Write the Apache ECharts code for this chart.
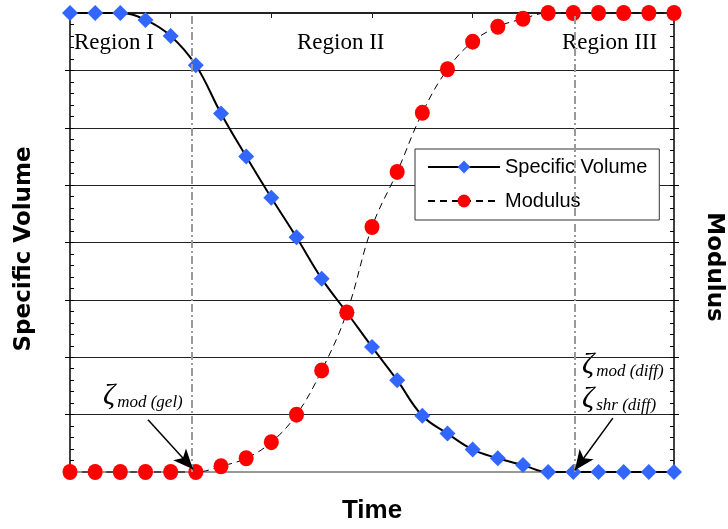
<!DOCTYPE html>
<html>
<head>
<meta charset="utf-8">
<script src="https://cdn.jsdelivr.net/npm/echarts@6/dist/echarts.min.js"></script>
<style>
    html, body { margin: 0; padding: 0; background: #fff; }
    #chart { width: 728px; height: 529px; }
</style>
</head>
<body>
<div id="chart"></div>
<script>
// time steps (x)
var timeSteps = [0, 1, 2, 3, 4, 5, 6, 7, 8, 9, 10, 11, 12, 13, 14, 15, 16, 17, 18, 19, 20, 21, 22, 23, 24];
var specVolume = [8, 8, 8, 7.88, 7.60, 7.09, 6.25, 5.50, 4.78, 4.09, 3.37, 2.78, 2.18, 1.60, 0.98, 0.67, 0.39, 0.24, 0.12, 0, 0, 0, 0, 0, 0];
var modulus = [0, 0, 0, 0, 0, 0, 0.10, 0.24, 0.52, 1.00, 1.77, 2.78, 4.27, 5.23, 6.26, 7.02, 7.50, 7.76, 7.90, 8, 8, 8, 8, 8, 8];
var regionBounds = [4.85, 20.05];
var seriesNames = ['Specific Volume', 'Modulus'];

function pairs(ys) {
    return timeSteps.map(function (t, i) { return [t, ys[i]]; });
}

var myChart = echarts.init(document.getElementById('chart'));

var serif = "'Liberation Serif', 'Times New Roman', serif";
var sans = "'Liberation Sans', Arial, sans-serif";
var wideSans = "'DejaVu Sans', 'Liberation Sans', sans-serif";

var zetaRich = {
    z: {fontSize: 30, fontStyle: 'italic', fontFamily: serif, color: '#000', verticalAlign: 'bottom'},
    s: {fontSize: 17, fontStyle: 'italic', fontFamily: serif, color: '#000', verticalAlign: 'bottom', padding: [0, 0, 0, 2]}
};

option = {
    animation: false,
    grid: {left: 70, right: 54, top: 13, bottom: 57, containLabel: false, outerBoundsMode: 'none'},

    legend: {
        data: seriesNames,
        orient: 'vertical',
        left: 415,
        top: 149,
        itemWidth: 72,
        itemHeight: 16,
        itemGap: 14,
        backgroundColor: '#fff',
        borderColor: '#333',
        borderWidth: 1,
        padding: [8, 12, 9, 12],
        textStyle: {fontSize: 20, fontFamily: sans, color: '#000'}
    },

    xAxis: [
        {
            type: 'value', min: 0, max: 24, interval: 4, position: 'bottom',
            name: 'Time', nameLocation: 'middle', nameGap: 26,
            nameTextStyle: {fontSize: 26, fontWeight: 'bold', fontFamily: sans, color: '#000'},
            axisLine: {onZero: false, lineStyle: {color: '#999', width: 2}},
            axisTick: {show: false}, axisLabel: {show: false}, splitLine: {show: false}
        },
        {
            type: 'value', min: 0, max: 24, interval: 4, position: 'top',
            axisLine: {onZero: false, lineStyle: {color: '#222', width: 2}},
            axisTick: {inside: true, length: 5, lineStyle: {color: '#222'}},
            axisLabel: {show: false}, splitLine: {show: false}
        }
    ],

    yAxis: [
        {
            type: 'value', min: 0, max: 8, interval: 1, position: 'left',
            axisLine: {onZero: false, lineStyle: {color: '#000', width: 1.5}},
            axisTick: {inside: false, length: 5, lineStyle: {color: '#000'}},
            axisLabel: {show: false},
            splitLine: {show: true, lineStyle: {color: '#222', width: 1}}
        },
        {
            type: 'value', min: 0, max: 8, interval: 1, position: 'right',
            axisLine: {onZero: false, lineStyle: {color: '#000', width: 1.5}},
            axisTick: {inside: false, length: 5, lineStyle: {color: '#000'}},
            axisLabel: {show: false}, splitLine: {show: false}
        },
        {
            // minor ticks, left
            type: 'value', min: 0, max: 8, interval: 0.2, position: 'left', offset: 0,
            axisLine: {show: false, onZero: false},
            axisTick: {inside: true, length: 4, lineStyle: {color: '#000'}},
            axisLabel: {show: false}, splitLine: {show: false}
        },
        {
            // minor ticks, right
            type: 'value', min: 0, max: 8, interval: 0.2, position: 'right', offset: 0,
            axisLine: {show: false, onZero: false},
            axisTick: {inside: true, length: 4, lineStyle: {color: '#000'}},
            axisLabel: {show: false}, splitLine: {show: false}
        }
    ],

    graphic: [
        // axis titles
        {type: 'text', x: 24, y: 249, rotation: Math.PI / 2,
            style: {text: 'Specific Volume', font: 'bold 23px ' + wideSans, fill: '#000', align: 'center', verticalAlign: 'middle'}},
        {type: 'text', x: 714, y: 267, rotation: -Math.PI / 2,
            style: {text: 'Modulus', font: 'bold 23px ' + wideSans, fill: '#000', align: 'center', verticalAlign: 'middle'}},
        // region labels
        {type: 'text', left: 74, top: 31, style: {text: 'Region I', font: '23px ' + serif, fill: '#000'}},
        {type: 'text', left: 297, top: 31, style: {text: 'Region II', font: '23px ' + serif, fill: '#000'}},
        {type: 'text', left: 562, top: 31, style: {text: 'Region III', font: '23px ' + serif, fill: '#000'}},
        // transition markers
        {type: 'text', left: 103, top: 381, style: {text: '{z|ζ}{s|mod (gel)}', rich: zetaRich}},
        {type: 'text', left: 582, top: 350, style: {text: '{z|ζ}{s|mod (diff)}', rich: zetaRich}},
        {type: 'text', left: 582, top: 384, style: {text: '{z|ζ}{s|shr (diff)}', rich: zetaRich}}
    ],

    series: [
        {
            name: seriesNames[0],
            type: 'line',
            data: pairs(specVolume),
            smooth: 0.4,
            clip: false,
            symbol: 'diamond',
            symbolSize: 16,
            itemStyle: {color: '#3366ff'},
            lineStyle: {color: '#000', width: 2},
            z: 3,
            markLine: {
                silent: true,
                symbol: 'none',
                label: {show: false},
                lineStyle: {color: '#999', width: 2, type: [8, 3, 2, 3]},
                data: regionBounds.map(function (b) { return {xAxis: b}; })
            }
        },
        {
            name: seriesNames[1],
            type: 'line',
            data: pairs(modulus),
            smooth: 0.4,
            clip: false,
            symbol: 'circle',
            symbolSize: [15, 16],
            itemStyle: {color: '#ff0000'},
            lineStyle: {color: '#000', width: 1, type: [7, 5]},
            z: 4,
            markLine: {
                silent: true,
                symbol: ['none', 'arrow'],
                symbolSize: [13, 20],
                label: {show: false},
                lineStyle: {color: '#000', width: 1.5, type: 'solid'},
                data: [
                    [{coord: [3.10, 0.91]}, {coord: [4.89, 0.05]}],
                    [{coord: [21.57, 0.94]}, {coord: [20.06, 0.03]}]
                ]
            }
        }
    ]
};

myChart.setOption(option);
</script>
</body>
</html>
